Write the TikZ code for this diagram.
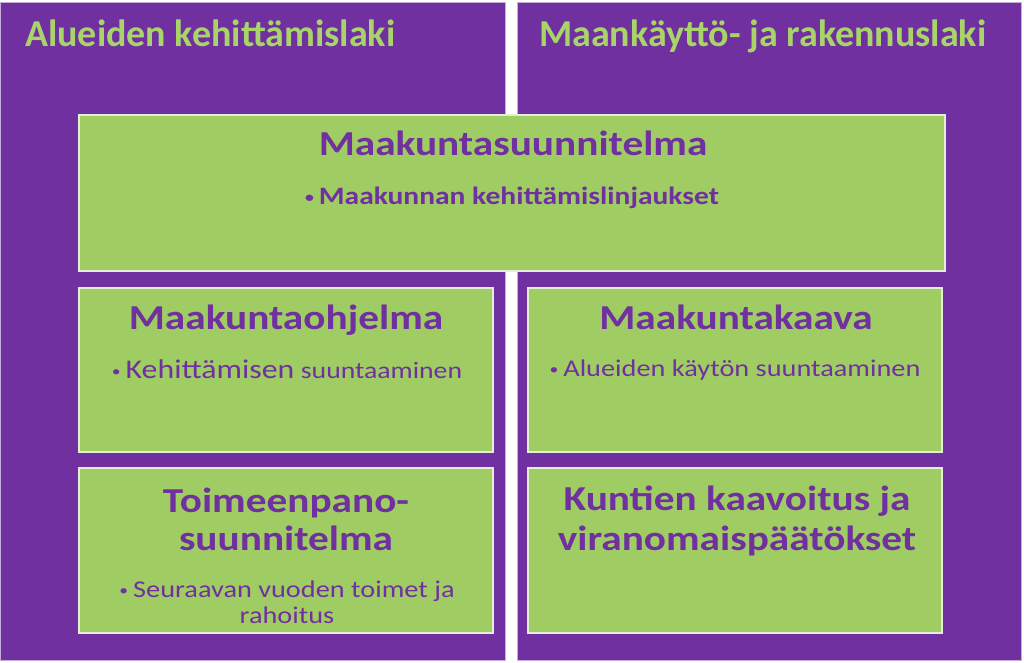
\documentclass[tikz,border=0pt]{standalone}
\usepackage{fontspec}
\setmainfont{Carlito}
\newfontfamily\wfont[FakeStretch=1.18]{Carlito}
\definecolor{lpurple}{HTML}{7030A0}
\definecolor{lgreen}{HTML}{A0CD63}
\definecolor{lgtext}{HTML}{A8D46A}
\definecolor{lborder}{HTML}{E4EED6}
\newcommand{\smbul}{{\fontsize{15}{15}\selectfont\raisebox{0.12em}{•}}\hspace{5pt}}
\tikzset{
  lawbox/.style={fill=lpurple, draw=lpurple!40!white, line width=0.8pt},
  planbox/.style={fill=lgreen, draw=lborder, line width=1.6pt},
  lawtitle/.style={anchor=base west, text=lgtext, font=\fontsize{38}{44}\selectfont\bfseries, inner sep=0pt},
  planhead/.style={anchor=base, text=lpurple, font=\wfont\fontsize{35}{40}\selectfont\bfseries, inner sep=0pt},
  planbullet/.style={anchor=base, text=lpurple, font=\wfont\fontsize{24}{26}\selectfont, inner sep=0pt},
}
\begin{document}
\begin{tikzpicture}[x=1pt,y=-1pt]
\useasboundingbox (0,0) rectangle (1024,663);
% law areas
\draw[lawbox] (0,2) rectangle (505,660);
\draw[lawbox] (517,2) rectangle (1021,660);
\node[lawtitle] (law1) at (25,47) {Alueiden kehittämislaki};
\node[lawtitle] (law2) at (539,47) {Maankäyttö- ja rakennuslaki};
% plan boxes
\draw[planbox] (79,115) rectangle (945,271);
\draw[planbox] (79,288) rectangle (493,452);
\draw[planbox] (79,468) rectangle (493,633);
\draw[planbox] (528,288) rectangle (942,452);
\draw[planbox] (528,468) rectangle (942,633);
% texts
\node[planhead] (h1) at (513,156) {Maakuntasuunnitelma};
\node[planbullet, font=\wfont\fontsize{25}{27}\selectfont\bfseries] (b1) at (512,204) {\smbul Maakunnan kehittämislinjaukset};
\node[planhead] (h2) at (286,329) {Maakuntaohjelma};
\node[planbullet] (b2) at (287,378) {\smbul{\fontsize{27}{29}\selectfont Kehittämisen} {\fontsize{23.5}{26}\selectfont suuntaaminen}};
\node[planhead] (h3) at (736,329) {Maakuntakaava};
\node[planbullet] (b3) at (735,376) {\smbul Alueiden käytön suuntaaminen};
\node[planhead] (h4a) at (286,512) {Toimeenpano-};
\node[planhead] (h4b) at (286,550) {suunnitelma};
\node[planbullet] (b4a) at (287,597) {\smbul Seuraavan vuoden toimet ja};
\node[planbullet] (b4b) at (287,623) {rahoitus};
\node[planhead] (h5a) at (737,510) {Kuntien kaavoitus ja};
\node[planhead] (h5b) at (737,550) {viranomaispäätökset};
\end{tikzpicture}
\end{document}
